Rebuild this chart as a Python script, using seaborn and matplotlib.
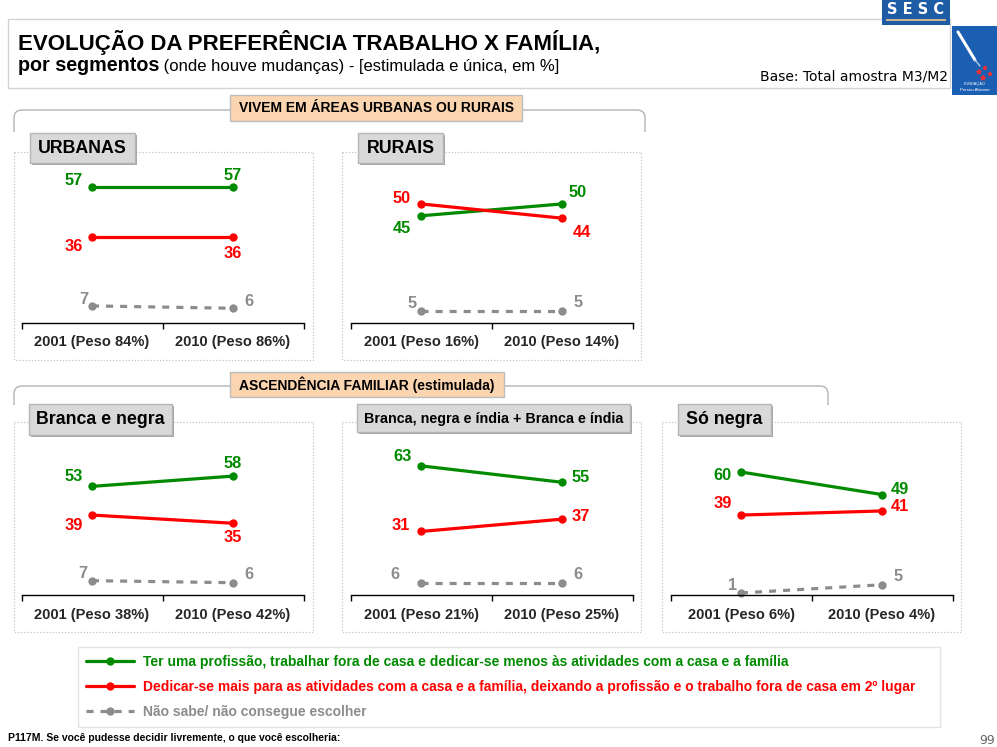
import numpy as np
import pandas as pd
import matplotlib
matplotlib.use("Agg")
import matplotlib.pyplot as plt
import seaborn as sns
from matplotlib.patches import Rectangle, PathPatch
from matplotlib.path import Path
from matplotlib.lines import Line2D

sns.set_theme(style="white")
plt.rcParams['font.family'] = ['Liberation Sans', 'DejaVu Sans']

# ---------------- DATA ----------------
series_names = [
    "Ter uma profissão, trabalhar fora de casa e dedicar-se menos às atividades com a casa e a família",
    "Dedicar-se mais para as atividades com a casa e a família, deixando a profissão e o trabalho fora de casa em 2º lugar",
    "Não sabe/ não consegue escolher",
]
panel_titles = ["URBANAS", "RURAIS", "Branca e negra",
                "Branca, negra e índia + Branca e índia", "Só negra"]
panel_years = [
    ["2001 (Peso 84%)", "2010 (Peso 86%)"],
    ["2001 (Peso 16%)", "2010 (Peso 14%)"],
    ["2001 (Peso 38%)", "2010 (Peso 42%)"],
    ["2001 (Peso 21%)", "2010 (Peso 25%)"],
    ["2001 (Peso 6%)", "2010 (Peso 4%)"],
]
trabalho = [[57, 57], [45, 50], [53, 58], [63, 55], [60, 49]]
familia = [[36, 36], [50, 44], [39, 35], [31, 37], [39, 41]]
nao_sabe = [[7, 6], [5, 5], [7, 6], [6, 6], [1, 5]]
section_titles = ["VIVEM EM ÁREAS URBANAS OU RURAIS", "ASCENDÊNCIA FAMILIAR (estimulada)"]

# ---------------- STYLE / LAYOUT ----------------
colors = ["#008a00", "#ff0000", "#8c8c8c"]
W, H = 997, 747
fig = plt.figure(figsize=(W / 100, H / 100), dpi=100)
fig.patch.set_facecolor("white")

bg = fig.add_axes([0, 0, 1, 1], zorder=0)
bg.set_xlim(0, W)
bg.set_ylim(H, 0)
bg.axis("off")

# panel axes: (left, top, width, bottom) px, ylim top
panel_axes = [
    (21.5, 152, 282, 322.5, 71.9),
    (350.5, 152, 282, 322.5, 71.9),
    (21.5, 422, 282, 595, 84.4),
    (350.5, 422, 282, 595, 84.4),
    (670.5, 422, 282, 595, 84.4),
]
panel_boxes = [(14, 152, 313, 360), (342, 152, 641, 360),
               (14, 422, 313, 632), (342, 422, 641, 632), (662, 422, 961, 632)]
title_boxes = [(30, 133, 135, 163, 12.8), (358, 133, 443, 163, 12.8),
               (29, 404, 172, 435, 12.8), (357, 404, 630, 432, 10.3),
               (678, 404, 771, 435, 12.8)]
# label offsets in px (dx right, dy up) per panel, series, point
label_offsets = [
    [[(-18, 7), (0, 12)], [(-18, -9), (0, -16)], [(-8, 6), (16, 7)]],
    [[(-19, -13), (16, 11)], [(-19, 5), (20, -14)], [(-9, 7), (16, 8)]],
    [[(-18, 10), (0, 13)], [(-18, -10), (0, -14)], [(-9, 7), (16, 8)]],
    [[(-18, 9), (19, 5)], [(-20, 6), (19, 3)], [(-26, 8), (16, 8)]],
    [[(-19, -3), (18, 5)], [(-18, 12), (18, 4)], [(-8, 7), (16, 8)]],
]

def px_rect(x0, y0, x1, y1, **kw):
    bg.add_patch(Rectangle((x0, y0), x1 - x0, y1 - y0, **kw))

# ---------------- HEADER ----------------
px_rect(8, 19, 950, 88, fill=False, edgecolor="#d4d4d4", lw=1.0, zorder=1)
bg.text(18, 50, "EVOLUÇÃO DA PREFERÊNCIA TRABALHO X FAMÍLIA,", fontsize=16,
        fontweight="bold", va="baseline", ha="left", color="black", zorder=3)

renderer = fig.canvas.get_renderer()
x_cursor = 18
for txt, fs, fw in [("por segmentos", 14.2, "bold"),
                    (" (onde houve mudanças) - ", 12, "normal"),
                    ("[estimulada e única, em %]", 12, "normal")]:
    t = bg.text(x_cursor, 71, txt, fontsize=fs, fontweight=fw, va="baseline",
                ha="left", color="black", zorder=3)
    bb = t.get_window_extent(renderer=renderer)
    x_cursor += bb.width
bg.text(948, 81, "Base: Total amostra M3/M2", fontsize=10, family="DejaVu Sans",
        ha="right", va="baseline", color="black", zorder=3)

# logos
px_rect(882, 0, 950, 25, facecolor="#1f5ca6", edgecolor="none", zorder=4)
px_rect(886, 19, 946, 21, facecolor="#c9b48a", edgecolor="none", zorder=5)
bg.text(916, 10, "S E S C", fontsize=10.5, fontweight="bold", color="white",
        ha="center", va="center", family="DejaVu Sans", zorder=5)
px_rect(952, 26, 997, 95, facecolor="#1b5fb3", edgecolor="none", zorder=4)
bg.plot([958, 975], [32, 60], color="white", lw=2.2, zorder=5, solid_capstyle="round")
bg.plot([975, 980], [60, 66], color="#b0c8e8", lw=1, zorder=5)
bg.scatter([979, 985, 990, 983], [72, 68, 74, 78], s=[10, 6, 6, 12], color="#e8303a",
           marker="*", zorder=5)
bg.text(974.5, 84, "FUNDAÇÃO", fontsize=2.8, color="white", ha="center", va="center", zorder=5)
bg.text(974.5, 90, "Perseu Abramo", fontsize=3.2, color="white", ha="center", va="center", zorder=5)

# ---------------- SECTION BRACKETS ----------------
def bracket(x0, x1, y, yend):
    r = 8
    verts = [(x0, yend), (x0, y + r), (x0, y), (x0 + r, y), (x1 - r, y),
             (x1, y), (x1, y + r), (x1, yend)]
    codes = [Path.MOVETO, Path.LINETO, Path.CURVE3, Path.CURVE3, Path.LINETO,
             Path.CURVE3, Path.CURVE3, Path.LINETO]
    bg.add_patch(PathPatch(Path(verts, codes), fill=False, edgecolor="#b3b3b3",
                           lw=1.0, zorder=1))

bracket(14, 645, 110, 132)
bracket(14, 828, 386, 405)
for (x0, y0, x1, y1), txt in zip([(230, 95, 522, 121), (230, 372, 504, 397)], section_titles):
    px_rect(x0, y0, x1, y1, facecolor="#fbd4b0", edgecolor="#bdbdbd", lw=1.0, zorder=2)
    bg.text((x0 + x1) / 2, (y0 + y1) / 2 + 0.5, txt, fontsize=10, fontweight="bold",
            ha="center", va="center", color="black", zorder=3)

# ---------------- PANELS ----------------
for (x0, y0, x1, y1) in panel_boxes:
    px_rect(x0, y0, x1, y1, fill=False, edgecolor="#c4c4c4", lw=0.9,
            linestyle=(0, (1, 1.5)), zorder=1)
for (x0, y0, x1, y1, fs), txt in zip(title_boxes, panel_titles):
    px_rect(x0 + 2, y0 + 2, x1 + 2, y1 + 2, facecolor="#a6a6a6", edgecolor="none", zorder=2)
    px_rect(x0, y0, x1, y1, facecolor="#d9d9d9", edgecolor="#b5b5b5", lw=1.0, zorder=3)
    bg.text((x0 + x1) / 2, (y0 + y1) / 2 + 0.5, txt, fontsize=fs, fontweight="bold",
            ha="center", va="center", color="black", zorder=4)

all_values = [trabalho, familia, nao_sabe]
for p, (left, top, width, bottom, ytop) in enumerate(panel_axes):
    ax = fig.add_axes([left / W, 1 - bottom / H, width / W, (bottom - top) / H], zorder=5)
    ax.set_facecolor("none")
    rows = []
    for s, name in enumerate(series_names):
        for i, year in enumerate(panel_years[p]):
            rows.append({"pos": i, "ano": year, "valor": all_values[s][p][i], "serie": name})
    df = pd.DataFrame(rows)
    sns.lineplot(data=df, x="pos", y="valor", hue="serie", style="serie",
                 hue_order=series_names, style_order=series_names,
                 palette=dict(zip(series_names, colors)),
                 dashes={series_names[0]: "", series_names[1]: "", series_names[2]: (2.2, 2.2)},
                 markers={n: "o" for n in series_names},
                 markersize=6, markeredgewidth=0, linewidth=2.3, legend=False, ax=ax,
                 clip_on=False)
    ax.set_xlim(-0.5, 1.5)
    ax.set_ylim(0, ytop)
    for sp in ["top", "right", "left"]:
        ax.spines[sp].set_visible(False)
    ax.spines["bottom"].set_color("black")
    ax.spines["bottom"].set_linewidth(1.0)
    ax.set_yticks([])
    ax.set_xticks([-0.5, 0.5, 1.5])
    ax.set_xticklabels([])
    ax.set_xticks([0, 1], minor=True)
    ax.set_xticklabels(panel_years[p], minor=True, fontsize=10.5, fontweight="bold")
    ax.tick_params(axis="x", which="major", direction="out", length=4, width=1,
                   color="black", bottom=True)
    ax.tick_params(axis="x", which="minor", length=0, pad=9)
    ax.set_xlabel("")
    ax.set_ylabel("")
    ax.grid(False)
    for s in range(3):
        for i in range(2):
            v = all_values[s][p][i]
            dx, dy = label_offsets[p][s][i]
            ax.annotate(str(v), xy=(i, v), xytext=(dx * 0.72, dy * 0.72),
                        textcoords="offset points", ha="center", va="center",
                        fontsize=11.8, fontweight="bold", color=colors[s],
                        annotation_clip=False)

# ---------------- LEGEND ----------------
handles = [
    Line2D([], [], color=colors[0], lw=2.3, marker="o", markersize=6, markeredgewidth=0),
    Line2D([], [], color=colors[1], lw=2.3, marker="o", markersize=6, markeredgewidth=0),
    Line2D([], [], color=colors[2], lw=2.3, marker="o", markersize=6, markeredgewidth=0,
           linestyle=(0, (2.2, 2.2))),
]
leg_top = 647
leg = fig.legend(handles, series_names, loc="upper left",
                 bbox_to_anchor=(78 / W, 1 - (leg_top + 80) / H, (940 - 78) / W, 80 / H),
                 mode="expand", ncol=1, frameon=True, fancybox=False,
                 prop={"size": 10, "weight": "bold"}, labelcolor="linecolor",
                 handlelength=3.5, handletextpad=0.65, labelspacing=0.8,
                 borderpad=0.55, borderaxespad=0)
leg.get_frame().set_edgecolor("#dcdcdc")
leg.get_frame().set_linewidth(1.0)

# ---------------- FOOTER ----------------
bg.text(8, 738, "P117M. Se você pudesse decidir livremente, o que você escolheria:",
        fontsize=7.5, fontweight="bold", ha="left", va="center", color="black")
bg.text(979, 741, "99", fontsize=9, ha="left", va="center", color="#666666",
        family="DejaVu Sans")

fig.savefig("out.png", dpi=100)
